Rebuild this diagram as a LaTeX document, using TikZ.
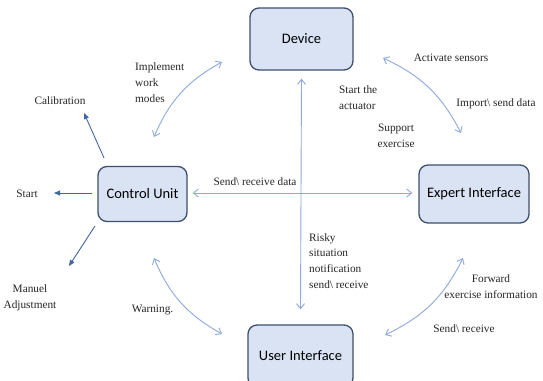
\documentclass[tikz,border=0pt]{standalone}
\usepackage{fontspec}
\setmainfont{Liberation Serif}
\newfontfamily\lblfont{Liberation Serif}
\newfontfamily\boxfont{Carlito}
\usetikzlibrary{arrows.meta}
\definecolor{boxfill}{HTML}{DAE3F3}
\definecolor{boxline}{HTML}{3E4F6E}
\definecolor{linkblue}{HTML}{8EA9DB}
\definecolor{darkblue}{HTML}{2F5597}
\begin{document}
\begin{tikzpicture}[x=1pt,y=-1pt,
  unit/.style={draw=boxline, line width=1.3pt, fill=boxfill, rounded corners=9pt,
    font=\boxfont\fontsize{14.5}{17}\selectfont, inner sep=0pt},
  lbl/.style={font=\lblfont\fontsize{11.3}{15.8}\selectfont, text=black!85, inner sep=0pt, align=left},
  biarrow/.style={draw=linkblue, line width=0.9pt,
    {Straight Barb[length=5pt,width=8pt]}-{Straight Barb[length=5pt,width=8pt]}},
  outarrow/.style={draw=darkblue!80!linkblue, line width=0.9pt,
    -{Triangle[length=6pt,width=5pt]}}]
\clip (0,0) rectangle (543,380);
\fill[white] (0,0) rectangle (543,380);

% main units
\node[unit, minimum width=103pt, minimum height=62pt] (dev) at (301.5,39) {Device};
\node[unit, minimum width=89pt, minimum height=55pt] (cu) at (142.5,194) {Control Unit};
\node[unit, minimum width=110pt, minimum height=58pt] (ei) at (474,194) {Expert Interface};
\node[unit, minimum width=105pt, minimum height=62pt] (ui) at (300.5,356) {User Interface};

% labels
\node[lbl, anchor=west] (imp) at (135,82.5) {Implement\\work\\modes};
\node[lbl] (cal) at (60,101) {Calibration};
\node[lbl] (start) at (27,194) {Start};
\node[lbl, align=center] (man) at (30,297.5) {Manuel\\Adjustment};
\node[lbl] (warn) at (152.5,310) {Warning.};
\node[lbl] (srd) at (255,182) {Send\textbackslash{} receive data};
\node[lbl, anchor=west] (act) at (339,97.5) {Start the\\actuator};
\node[lbl, align=center] (sup) at (396,136) {Support\\exercise};
\node[lbl] (sens) at (451,58) {Activate sensors};
\node[lbl] (imps) at (496,104) {Import\textbackslash{} send data};
\node[lbl, anchor=west] (risk) at (309,261) {Risky\\situation\\notification\\send\textbackslash{} receive};
\node[lbl, align=center] (fwd) at (491,286.5) {Forward\\exercise information};
\node[lbl] (sr) at (464,329) {Send\textbackslash{} receive};

% free ends of the arcs and outgoing arrows
\coordinate (impA) at (222,62);   \coordinate (impB) at (154,137);
\coordinate (sensA) at (383,58);  \coordinate (sensB) at (461,133);
\coordinate (warnA) at (154,258); \coordinate (warnB) at (222,334);
\coordinate (fwdA) at (463,258);  \coordinate (fwdB) at (385,335);
\coordinate (calS) at (104,158);  \coordinate (calE) at (84,113);
\coordinate (manS) at (95,226);   \coordinate (manE) at (69,266);
\coordinate (startE) at (54,193);

% connectors between units
\draw[biarrow] ([yshift=-8pt]dev.south) -- ([yshift=15pt]ui.north);
\draw[biarrow] ([xshift=5pt,yshift=1pt]cu.east) -- ([xshift=-6pt,yshift=1pt]cu.east -| ei.west);

% arcs
\draw[biarrow] (impA) to[bend right=19] (impB);
\draw[biarrow] (sensA) to[bend left=19] (sensB);
\draw[biarrow] (warnA) to[bend right=19] (warnB);
\draw[biarrow] (fwdA) to[bend left=19] (fwdB);

% control unit outputs
\draw[outarrow] ([xshift=-5pt,yshift=1pt]cu.west) -- (startE);
\draw[outarrow] (calS) -- (calE);
\draw[outarrow] (manS) -- (manE);
\end{tikzpicture}
\end{document}
